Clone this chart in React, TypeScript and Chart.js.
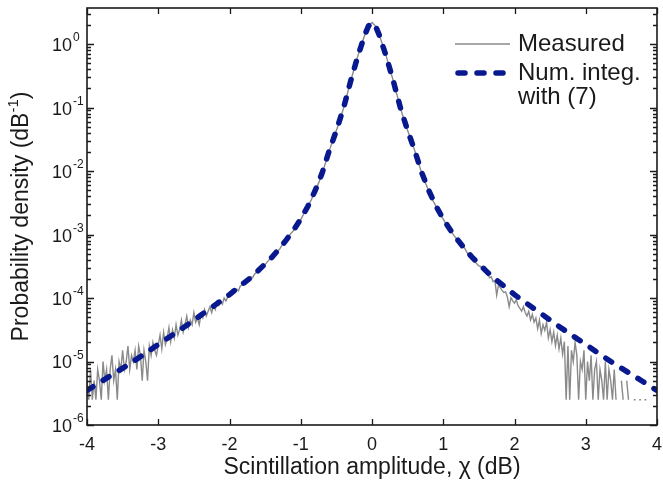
import React, { useEffect, useRef } from "react";
import { Chart, registerables } from "chart.js";

Chart.register(...registerables);

// ---------- data ----------
const xTickValues = [-4, -3, -2, -1, 0, 1, 2, 3, 4];
const yDecadeExponents = [-6, -5, -4, -3, -2, -1, 0];
const xMin = -4;
const xMax = 4;
const yMin = 1e-6;
const yMax = 3.7;

// Numerical integration with (7)
const modelX = [
  -4, -3.8, -3.6, -3.4, -3.2, -3, -2.8, -2.6, -2.4, -2.2, -2, -1.9, -1.8, -1.7, -1.6, -1.5,
  -1.4, -1.3, -1.2, -1.1, -1, -0.9, -0.8, -0.7, -0.6, -0.5, -0.4, -0.3, -0.2, -0.1, -0.05,
  0,
  0.05, 0.1, 0.2, 0.3, 0.4, 0.5, 0.6, 0.7, 0.8, 0.9, 1, 1.1, 1.2, 1.3, 1.4, 1.5, 1.6, 1.7,
  1.8, 1.9, 2, 2.2, 2.4, 2.6, 2.8, 3, 3.2, 3.4, 3.6, 3.8, 4,
];
const modelY = [
  3.5e-6, 4.85e-6, 6.7e-6, 9.2e-6, 1.3e-5, 1.86e-5, 2.62e-5, 3.73e-5, 5.4e-5, 7.8e-5, 1.13e-4,
  1.4e-4, 1.72e-4, 2.1e-4, 2.68e-4, 3.45e-4, 4.45e-4, 6.0e-4, 8.3e-4, 1.18e-3, 1.75e-3, 2.79e-3,
  4.85e-3, 9.3e-3, 0.021, 0.0435, 0.098, 0.26, 0.64, 1.4, 1.92,
  2.18,
  1.92, 1.4, 0.64, 0.26, 0.098, 0.0435, 0.021, 9.3e-3, 4.85e-3, 2.79e-3, 1.75e-3, 1.18e-3,
  8.3e-4, 6.0e-4, 4.45e-4, 3.45e-4, 2.68e-4, 2.1e-4, 1.72e-4, 1.4e-4, 1.13e-4, 7.8e-5, 5.4e-5,
  3.73e-5, 2.62e-5, 1.86e-5, 1.3e-5, 9.2e-6, 6.7e-6, 4.85e-6, 3.5e-6,
];

// Measured histogram: left tail bins (-4.000 .. -1.500, width 0.025)
const measuredLeftStart = -4.0;
const measuredLeftStep = 0.025;
const measuredLeftY = [
  5e-6, 2.5e-6, 7.5e-6, 2.5e-6, 5e-6, 2.5e-6, 7.5e-6, 5e-6, 2.5e-6, 1e-5,
  5e-6, 7.5e-6, 2.5e-6, 7.5e-6, 1.25e-5, 5e-6, 7.5e-6, 2.5e-6, 1e-5, 7.5e-6,
  1.5e-5, 7.5e-6, 1e-5, 1.75e-5, 7.5e-6, 1.25e-5, 1e-5, 1.5e-5, 7.5e-6, 1.75e-5,
  1.25e-5, 5e-6, 1.5e-5, 1e-5, 5e-6, 1.75e-5, 1.25e-5, 2e-5, 1.5e-5, 1.25e-5,
  1.82e-5, 2.6e-5, 1.58e-5, 2.88e-5, 1.85e-5, 2.33e-5, 3.42e-5, 2.05e-5, 3.15e-5, 2.33e-5,
  3.8e-5, 2.6e-5, 3.17e-5, 4.5e-5, 2.9e-5, 3.8e-5, 5.2e-5, 3.45e-5, 4.5e-5, 3.8e-5,
  5.9e-5, 4.15e-5, 4.85e-5, 3.8e-5, 5.5e-5, 4.85e-5, 6.55e-5, 5.2e-5, 6.2e-5, 7.25e-5,
  5.9e-5, 7.6e-5, 6.6e-5, 8.7e-5, 7.6e-5, 9.0e-5, 8.0e-5, 1.0e-4, 9.0e-5, 1.04e-4,
  1.08e-4, 1.22e-4, 1.15e-4, 1.32e-4, 1.39e-4, 1.29e-4, 1.53e-4, 1.6e-4, 1.74e-4, 1.67e-4,
  1.95e-4, 2.02e-4, 2.16e-4, 2.09e-4, 2.37e-4, 2.51e-4, 2.65e-4, 2.72e-4, 3.0e-4, 3.07e-4,
  3.35e-4,
];

// Measured: central bins (-1.45 .. 1.45, width 0.05)
const measuredCenterStart = -1.45;
const measuredCenterStep = 0.05;
const measuredCenterY = [
  3.95e-4, 4.3e-4, 5.3e-4, 5.8e-4, 7.2e-4, 8.15e-4, 1.0e-3, 1.16e-3, 1.42e-3, 1.72e-3,
  2.2e-3, 2.75e-3, 3.57e-3, 4.8e-3, 6.45e-3, 9.2e-3, 0.0137, 0.021, 0.0304, 0.0435,
  0.063, 0.098, 0.16, 0.26, 0.41, 0.64, 0.97, 1.4, 1.92, 2.18,
  1.92, 1.4, 0.97, 0.64, 0.41, 0.26, 0.16, 0.098, 0.063, 0.0435,
  0.0304, 0.021, 0.0137, 9.2e-3, 6.5e-3, 4.8e-3, 3.5e-3, 2.78e-3, 2.14e-3, 1.75e-3,
  1.39e-3, 1.17e-3, 9.6e-4, 8.3e-4, 6.9e-4, 6.1e-4, 4.85e-4, 4.35e-4, 3.65e-4,
];

// Measured: right tail bins (1.500 .. 4.000, width 0.025); null = empty bin
const measuredRightStart = 1.5;
const measuredRightStep = 0.025;
const measuredRightY = [
  3.2e-4, 3.14e-4, 2.86e-4, 2.79e-4, 2.44e-4, 2.37e-4, 2.09e-4, 2.16e-4, 1.81e-4, 1.88e-4,
  1.11e-4, 1.6e-4, 1.46e-4, 1.32e-4, 1.22e-4, 1.25e-4, 1.04e-4, 7.3e-5, 1.01e-4, 9.0e-5,
  8.3e-5, 9.35e-5, 7.6e-5, 6.9e-5, 6.2e-5, 7.3e-5, 5.9e-5, 5.2e-5, 6.2e-5, 4.5e-5,
  5.5e-5, 4.15e-5, 4.85e-5, 3.3e-5, 4.5e-5, 2.76e-5, 3.8e-5, 3.1e-5, 4.15e-5, 2.35e-5,
  3.17e-5, 2.05e-5, 2.9e-5, 1.78e-5, 2.6e-5, 1.58e-5, 2.33e-5, 1.3e-5, 2.05e-5, 2.5e-6,
  1.75e-5, 2.5e-6, 1.5e-5, 1e-5, 2e-5, 1.25e-5, 2.5e-6, 1e-5, 7.5e-6, 1.5e-5,
  2.5e-6, 1e-5, 5e-6, 1.25e-5, 2.5e-6, 7.5e-6, 1e-5, 2.5e-6, 7.5e-6, 5e-6,
  2.5e-6, 1e-5, 2.5e-6, 7.5e-6, 5e-6, 2.5e-6, 7.5e-6, 2.5e-6, null, null,
  5e-6, 2.5e-6, null, 5e-6, 2.5e-6, null, null, 2.5e-6, 2.5e-6, null,
  2.5e-6, 2.5e-6, null, 2.5e-6, 2.5e-6, null, null, null, null, null,
  null,
];

const legendLabels = ["Measured", "Num. integ.", "with (7)"];
const xTitle = "Scintillation amplitude, \u03C7 (dB)";
const yTitleMain = "Probability density (dB";
const yTitleSup = "-1";
const yTitleEnd = ")";

// ---------- styles ----------
const FONT = '"Liberation Sans", Arial, Helvetica, sans-serif';
const TEXT = "#1a1a1a";
const GRAY = "#8a8a8a";
const BLUE = "#08198f";

function binsToPoints(start: number, step: number, ys: (number | null)[]) {
  return ys.map((y, i) => ({ x: +(start + i * step).toFixed(4), y }));
}

const decorPlugin = {
  id: "decor",
  afterDatasetsDraw(chart: any) {
    const { ctx, chartArea } = chart;
    const { left, right, top, bottom } = chartArea;
    const xs = chart.scales.x;
    const ys = chart.scales.y;
    ctx.save();
    ctx.strokeStyle = TEXT;
    ctx.lineWidth = 1.6;
    ctx.strokeRect(left, top, right - left, bottom - top);

    ctx.lineWidth = 1.3;
    ctx.beginPath();
    xTickValues.forEach((v) => {
      const px = Math.round(xs.getPixelForValue(v)) + 0.5;
      ctx.moveTo(px, bottom);
      ctx.lineTo(px, bottom - 6);
      ctx.moveTo(px, top);
      ctx.lineTo(px, top + 6);
    });
    yDecadeExponents.forEach((e) => {
      for (let m = 1; m <= 9; m++) {
        const v = m * Math.pow(10, e);
        if (v > yMax) break;
        const py = Math.round(ys.getPixelForValue(v)) + 0.5;
        const len = m === 1 ? 7 : 4;
        ctx.moveTo(left, py);
        ctx.lineTo(left + len, py);
        ctx.moveTo(right, py);
        ctx.lineTo(right - len, py);
      }
    });
    ctx.stroke();

    // x tick labels
    ctx.fillStyle = TEXT;
    ctx.font = `18px ${FONT}`;
    ctx.textAlign = "center";
    ctx.textBaseline = "middle";
    xTickValues.forEach((v) => {
      ctx.fillText(String(v), xs.getPixelForValue(v), bottom + 20);
    });

    // y tick labels 10^e
    yDecadeExponents.forEach((e) => {
      const py = ys.getPixelForValue(Math.pow(10, e));
      ctx.font = `18px ${FONT}`;
      ctx.textAlign = "right";
      ctx.textBaseline = "middle";
      ctx.fillText("10", 72, py + 2);
      ctx.font = `12px ${FONT}`;
      ctx.textAlign = "left";
      ctx.fillText(String(e), 73, py - 6);
    });

    // x title
    ctx.font = `23px ${FONT}`;
    ctx.textAlign = "center";
    ctx.textBaseline = "middle";
    ctx.fillText(xTitle, (left + right) / 2, 468);

    // y title (rotated)
    ctx.save();
    ctx.translate(22, (top + bottom) / 2);
    ctx.rotate(-Math.PI / 2);
    ctx.font = `23px ${FONT}`;
    const w1 = ctx.measureText(yTitleMain).width;
    const w3 = ctx.measureText(yTitleEnd).width;
    ctx.font = `15px ${FONT}`;
    const w2 = ctx.measureText(yTitleSup).width;
    const total = w1 + w2 + w3;
    let cx = -total / 2;
    ctx.textAlign = "left";
    ctx.textBaseline = "middle";
    ctx.font = `23px ${FONT}`;
    ctx.fillText(yTitleMain, cx, 0);
    cx += w1;
    ctx.font = `15px ${FONT}`;
    ctx.fillText(yTitleSup, cx, -8);
    cx += w2;
    ctx.font = `23px ${FONT}`;
    ctx.fillText(yTitleEnd, cx, 0);
    ctx.restore();

    // legend
    const lx0 = 455;
    const lx1 = 510;
    const tx = 518;
    const rows = [44, 73, 97];
    ctx.lineCap = "butt";
    ctx.setLineDash([]);
    ctx.strokeStyle = GRAY;
    ctx.lineWidth = 1.4;
    ctx.beginPath();
    ctx.moveTo(lx0, rows[0]);
    ctx.lineTo(lx1, rows[0]);
    ctx.stroke();
    ctx.strokeStyle = BLUE;
    ctx.lineWidth = 5.5;
    ctx.lineCap = "round";
    ctx.setLineDash([7, 12]);
    ctx.beginPath();
    ctx.moveTo(lx0 + 3, rows[1]);
    ctx.lineTo(lx1, rows[1]);
    ctx.stroke();
    ctx.setLineDash([]);
    ctx.fillStyle = TEXT;
    ctx.font = `24px ${FONT}`;
    ctx.textAlign = "left";
    ctx.textBaseline = "middle";
    legendLabels.forEach((t, i) => ctx.fillText(t, tx, rows[i]));
    ctx.restore();
  },
};

export default function App() {
  const ref = useRef<HTMLCanvasElement | null>(null);

  useEffect(() => {
    document.body.style.margin = "0";
    const canvas = ref.current;
    if (!canvas) return;
    const measured = [
      ...binsToPoints(measuredLeftStart, measuredLeftStep, measuredLeftY),
      ...binsToPoints(measuredCenterStart, measuredCenterStep, measuredCenterY),
      ...binsToPoints(measuredRightStart, measuredRightStep, measuredRightY),
    ];
    const model = modelX.map((x, i) => ({ x, y: modelY[i] }));

    const chart = new Chart(canvas, {
      type: "line",
      data: {
        datasets: [
          {
            label: "Num. integ. with (7)",
            data: model,
            borderColor: BLUE,
            borderWidth: 5.5,
            borderDash: [7, 12],
            borderCapStyle: "round",
            pointRadius: 0,
            tension: 0,
            order: 0,
          },
          {
            label: "Measured",
            data: measured,
            borderColor: GRAY,
            borderWidth: 1.4,
            pointRadius: 0,
            tension: 0,
            spanGaps: false,
            order: 1,
          },
        ],
      },
      options: {
        animation: false,
        responsive: false,
        devicePixelRatio: 1,
        layout: { padding: { left: 87, right: 6, top: 8, bottom: 62 } },
        plugins: { legend: { display: false }, tooltip: { enabled: false } },
        scales: {
          x: { type: "linear", min: xMin, max: xMax, display: false },
          y: { type: "logarithmic", min: yMin, max: yMax, display: false },
        },
      },
      plugins: [decorPlugin],
    } as any);
    return () => chart.destroy();
  }, []);

  return (
    <canvas
      ref={ref}
      width={663}
      height={487}
      style={{ display: "block", width: 663, height: 487 }}
    />
  );
}
